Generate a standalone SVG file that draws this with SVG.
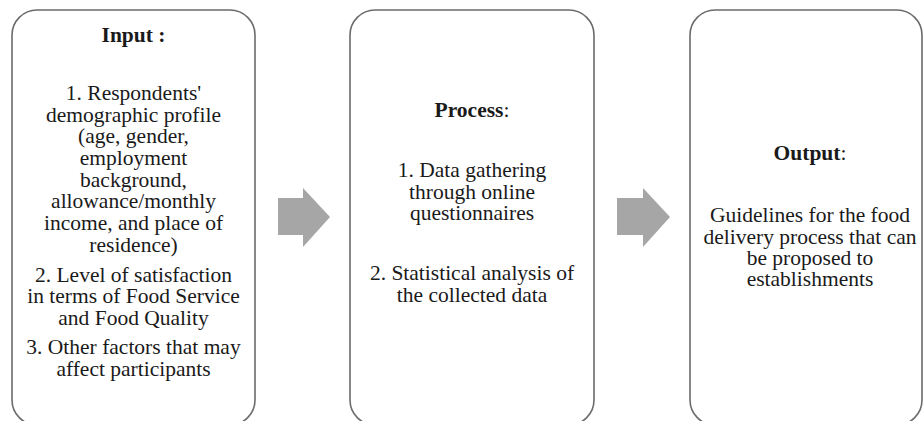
<svg xmlns="http://www.w3.org/2000/svg" width="924" height="421" viewBox="0 0 924 421">
<style>
.box{fill:#ffffff;stroke:#6b6b6b;stroke-width:1.6}
.t{font-family:"Liberation Serif","Times New Roman",serif;font-size:21.5px;fill:#1a1a1a;text-anchor:middle}
.h{font-weight:bold}
.n{font-weight:normal}
.arrow{fill:#a6a6a6;stroke:none}
</style>
<rect x="0" y="0" width="924" height="421" fill="#ffffff"/>
<g id="node-input">
<rect class="box" x="12" y="10" width="243" height="415" rx="25" ry="25"/>
<text class="t h" x="133.5" y="42">Input :</text>
<text class="t" x="133.5" y="100">1. Respondents'</text>
<text class="t" x="133.5" y="122">demographic profile</text>
<text class="t" x="133.5" y="143">(age, gender,</text>
<text class="t" x="133.5" y="165">employment</text>
<text class="t" x="133.5" y="187">background,</text>
<text class="t" x="133.5" y="208">allowance/monthly</text>
<text class="t" x="133.5" y="230">income, and place of</text>
<text class="t" x="133.5" y="252">residence)</text>
<text class="t" x="133.5" y="282">2. Level of satisfaction</text>
<text class="t" x="133.5" y="303">in terms of Food Service</text>
<text class="t" x="133.5" y="325">and Food Quality</text>
<text class="t" x="133.5" y="354">3. Other factors that may</text>
<text class="t" x="133.5" y="376">affect participants</text>
</g>
<g id="node-process">
<rect class="box" x="350" y="10" width="244" height="415" rx="25" ry="25"/>
<text class="t h" x="472" y="117">Process<tspan class="n">:</tspan></text>
<text class="t" x="472" y="177">1. Data gathering</text>
<text class="t" x="472" y="199">through online</text>
<text class="t" x="472" y="220">questionnaires</text>
<text class="t" x="472" y="280">2. Statistical analysis of</text>
<text class="t" x="472" y="302">the collected data</text>
</g>
<g id="node-output">
<rect class="box" x="690" y="10" width="232" height="415" rx="25" ry="25"/>
<text class="t h" x="810" y="160">Output<tspan class="n">:</tspan></text>
<text class="t" x="810" y="222">Guidelines for the food</text>
<text class="t" x="810" y="244">delivery process that can</text>
<text class="t" x="810" y="265">be proposed to</text>
<text class="t" x="810" y="286">establishments</text>
</g>
<g id="connectors">
<polygon id="arrow-1" class="arrow" points="278,198 303,198 303,188 330,217 303,247 303,235 278,235"/>
<polygon id="arrow-2" class="arrow" points="617,198 643,198 643,188 670,217 643,247 643,235 617,235"/>
</g>
</svg>
